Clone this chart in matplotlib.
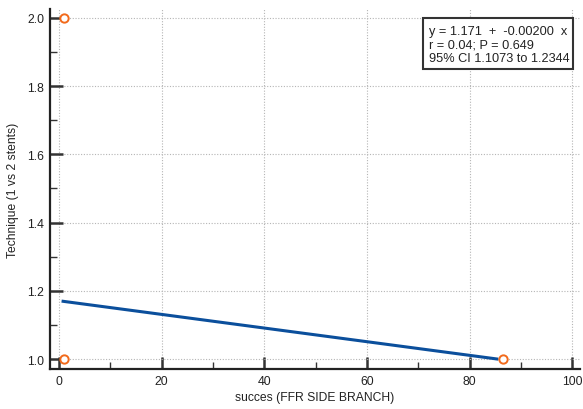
import matplotlib
matplotlib.use("Agg")
import matplotlib.pyplot as plt
import numpy as np
from matplotlib.ticker import MultipleLocator
from matplotlib.patches import Rectangle

plt.rcParams['font.family'] = ['Liberation Sans', 'DejaVu Sans']

# Observations
succes = [1.0, 1.0, 86.5]
technique = [2.0, 1.0, 1.0]

# Regression fit
intercept = 1.171
slope = -0.00200
fit_x = [0.8, 85.3]

stats_lines = ["y = 1.171  +  -0.00200  x",
               "r = 0.04; P = 0.649",
               "95% CI 1.1073 to 1.2344"]

fig = plt.figure(figsize=(5.83, 4.10), dpi=100)
ax = fig.add_axes([50/583, 1 - 370/410, 530/583, 360/410])

ax.set_xlim(-1.75, 101.5)
ax.set_ylim(0.971, 2.026)

fx = np.array(fit_x)
ax.plot(fx, intercept + slope * fx, color='#0b4f9c', lw=2.2, zorder=3)
ax.plot(succes, technique, linestyle='none', marker='o', markersize=6,
        markerfacecolor='white', markeredgecolor='#f26a1b', markeredgewidth=1.4,
        zorder=4, clip_on=False)

ax.xaxis.set_major_locator(MultipleLocator(20))
ax.xaxis.set_minor_locator(MultipleLocator(10))
ax.yaxis.set_major_locator(MultipleLocator(0.2))
ax.yaxis.set_minor_locator(MultipleLocator(0.1))
ax.yaxis.set_major_formatter(matplotlib.ticker.FormatStrFormatter('%.1f'))

ax.grid(True, which='major', color='#b5b5b5', linestyle=(0, (1, 1.5)), linewidth=0.8)
for s in ['top', 'right']:
    ax.spines[s].set_visible(False)
for s in ['left', 'bottom']:
    ax.spines[s].set_linewidth(1.6)
    ax.spines[s].set_color('#222222')

ax.tick_params(which='major', direction='in', length=9, width=1.8, color='#333333',
               labelsize=8.8, pad=4, labelcolor='#222222')
ax.tick_params(which='minor', direction='in', length=5, width=1.0, color='#333333')

ax.set_xlabel('succes (FFR SIDE BRANCH)', fontsize=8.7, labelpad=3, color='#222222')
ax.set_ylabel('Technique (1 vs 2 stents)', fontsize=8.7, labelpad=6, color='#222222')

# Statistics box in the upper right corner
box = Rectangle((0.7038, 0.833), 0.283, 0.142, transform=ax.transAxes,
                facecolor='white', edgecolor='#333333', linewidth=1.5,
                zorder=5, clip_on=False)
ax.add_patch(box)
for i, line in enumerate(stats_lines):
    ax.text(0.7150, 0.930 - i * 0.037, line, transform=ax.transAxes,
            fontsize=9.2, va='baseline', ha='left', color='#222222', zorder=6)

fig.savefig('out.png', dpi=100)
